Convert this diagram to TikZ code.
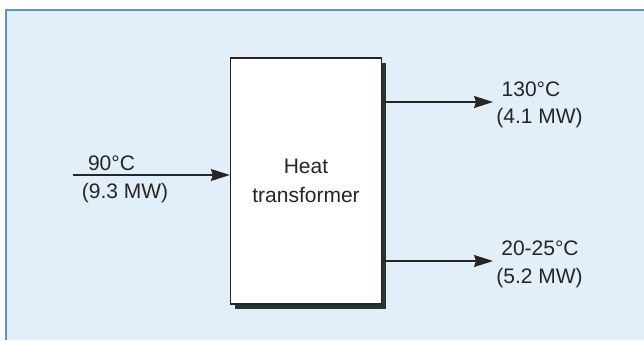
\documentclass[tikz,border=0pt]{standalone}
\usepackage{fontspec}
\setmainfont{Liberation Sans}
\usepackage{tikz}
\usetikzlibrary{arrows.meta,shadows}

\definecolor{panelblue}{HTML}{E2EEF8}
\definecolor{panelline}{HTML}{5E93CC}
\definecolor{shadowgray}{HTML}{263633}

\tikzset{
  flow/.style={-{Stealth[length=19pt,width=12pt,inset=2pt]},line width=1.3pt,draw=black!85},
  lbl/.style={font=\fontsize{21}{25}\selectfont,text=black!85,inner sep=0pt},
}

\begin{document}
\begin{tikzpicture}[x=1pt,y=-1pt]
\useasboundingbox (0,0) rectangle (644,340);
\fill[panelblue] (6,10) rectangle (644,340);
\draw[panelline,line width=1.8pt] (644,10) -- (6,10) -- (6,340);

\node[draw=black!85,line width=1.3pt,fill=white,minimum width=151pt,minimum height=246pt,
  align=center,font=\fontsize{21}{29}\selectfont,text=black!85,
  drop shadow={shadow xshift=4.5pt,shadow yshift=-5pt,fill=shadowgray,opacity=1}]
  (trans) at (306,181) {Heat\\transformer};

\coordinate (hotin) at (73,175);
\coordinate (hiout) at (493,102);
\coordinate (loout) at (493,261);

\draw[flow] (hotin) -- (hotin -| trans.west);
\draw[flow] (hiout -| trans.east) -- (hiout);
\draw[flow] (loout -| trans.east) -- (loout);

\node[lbl] (intemp) at (111.5,163) {90°C};
\node[lbl] (inpow) at (125,193) {(9.3 MW)};
\node[lbl] (hitemp) at (531,89) {130°C};
\node[lbl] (hipow) at (539.5,118) {(4.1 MW)};
\node[lbl] (lotemp) at (540,248) {20-25°C};
\node[lbl] (lopow) at (539.5,278) {(5.2 MW)};
\end{tikzpicture}
\end{document}
